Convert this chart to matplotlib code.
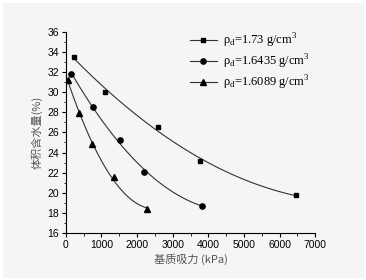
import numpy as np
import matplotlib.pyplot as plt
from matplotlib.ticker import MultipleLocator

# matric suction (kPa) and volumetric water content (%)
x_173 = [225, 1107, 2590, 3770, 6457]
y_173 = [33.5, 30.03, 26.53, 23.2, 19.73]
x_16435 = [149, 769, 1510, 2185, 3830]
y_16435 = [31.83, 28.5, 25.23, 22.03, 18.73]
x_16089 = [73, 355, 720, 1340, 2280]
y_16089 = [31.2, 27.9, 24.86, 21.6, 18.4]

labels = ['ρ$_\\mathregular{d}$=1.73 g/cm$^\\mathregular{3}$',
          'ρ$_\\mathregular{d}$=1.6435 g/cm$^\\mathregular{3}$',
          'ρ$_\\mathregular{d}$=1.6089 g/cm$^\\mathregular{3}$']
markers = ['s', 'o', '^']
msizes = [3.5, 3.8, 4.0]

plt.rcParams['font.family'] = ['Liberation Sans', 'Noto Sans CJK SC']
plt.rcParams['mathtext.fontset'] = 'custom'
plt.rcParams['mathtext.rm'] = 'Liberation Serif'

fig = plt.figure(figsize=(3.66, 2.8), dpi=100, facecolor='#f5f5f5')
fig.patch.set_edgecolor('white')
fig.patch.set_linewidth(2.5)
ax = fig.add_axes([0.180, 0.168, 0.681, 0.718])
ax.set_facecolor('#f5f5f5')

series = [(x_173, y_173), (x_16435, y_16435), (x_16089, y_16089)]
for (xs, ys), m, ms, lab in zip(series, markers, msizes, labels):
    # fitted trend through the measured points
    c = np.polyfit(xs, ys, 2)
    xf = np.linspace(min(xs), max(xs), 200)
    ax.plot(xf, np.polyval(c, xf), color='#333333', lw=0.8, zorder=1)
    ax.plot(xs, ys, ls='none', marker=m, ms=ms, color='black', zorder=2)
    ax.plot([], [], color='#333333', lw=0.8, marker=m, ms=ms, mfc='black', mec='black', label=lab)

ax.set_xlim(0, 7000)
ax.set_ylim(16, 36)
ax.xaxis.set_major_locator(MultipleLocator(1000))
ax.xaxis.set_minor_locator(MultipleLocator(500))
ax.yaxis.set_major_locator(MultipleLocator(2))
ax.yaxis.set_minor_locator(MultipleLocator(1))
for s in ['top', 'right']:
    ax.spines[s].set_visible(False)
for s in ['left', 'bottom']:
    ax.spines[s].set_linewidth(0.8)
ax.tick_params(which='major', direction='out', length=3, width=0.8, labelsize=7.5, pad=2)
ax.tick_params(which='minor', direction='out', length=1.8, width=0.6)

ax.set_xlabel('基质吸力 (kPa)', fontsize=8, color='#555555', labelpad=3,
              family=['Noto Sans CJK SC', 'Liberation Sans'])
ax.set_ylabel('体积含水量(%)', fontsize=8, color='#555555', labelpad=3,
              family=['Noto Sans CJK SC', 'Liberation Sans'])

leg = ax.legend(loc='upper right', bbox_to_anchor=(1.01, 1.04), frameon=False,
                prop={'family': 'Liberation Serif', 'size': 9},
                handlelength=2.2, handletextpad=0.5, labelspacing=0.22,
                borderaxespad=0.2)

fig.savefig('out.png', dpi=100, facecolor=fig.get_facecolor(), edgecolor='white')
